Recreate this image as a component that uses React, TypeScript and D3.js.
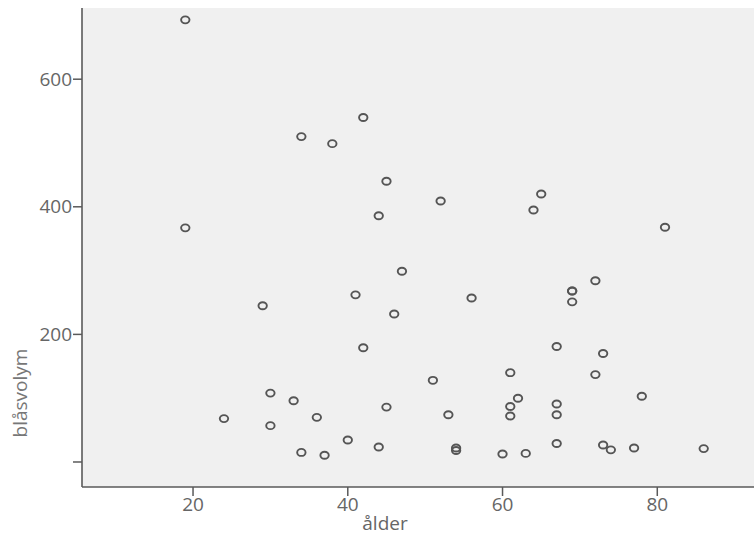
import React from "react";
import * as d3 from "d3";

const ages: number[] = [
  19, 19, 24, 29, 30, 30, 33, 34, 34, 36, 37, 38, 40, 41, 42, 42, 44, 44, 45, 45,
  46, 47, 51, 52, 53, 54, 54, 56, 60, 61, 61, 61, 62, 63, 64, 65, 67, 67, 67, 67,
  69, 69, 69, 72, 72, 73, 73, 74, 77, 78, 81, 86,
];
const volumes: number[] = [
  693, 367, 68, 245, 108, 57, 96, 510, 15, 70, 10.5, 499, 34.5, 262, 540, 179, 23.5, 386, 440, 86,
  232, 299, 128, 409, 74, 22, 18, 257, 12.5, 140, 87, 72, 100, 13.5, 395, 420, 181, 91, 74, 29,
  268, 268, 251, 284, 137, 170, 26.6, 19, 22, 103, 368, 21,
];
const xTicks: number[] = [20, 40, 60, 80];
const yTicks: number[] = [0, 200, 400, 600];
const yTickLabels: string[] = ["", "200", "400", "600"];
const xTitle = "ålder";
const yTitle = "blåsvolym";

const W = 754;
const H = 535;
const left = 82;
const right = 754;
const top = 8;
const bottom = 487;

export default function App() {
  const x = d3.scaleLinear().domain([5.65, 92.5]).range([left, right]);
  const y = d3.scaleLinear().domain([-39.2, 711.6]).range([bottom, top]);
  const axisColor = "#5a5a5a";
  const textColor = "#666";
  const font = "'Open Sans', sans-serif";
  return (
    <svg width={W} height={H} style={{ position: "absolute", left: 0, top: 0 }}>
      <rect x={left} y={top} width={right - left} height={bottom - top} fill="#f0f0f0" />
      {ages.map((a, i) => (
        <ellipse
          key={i}
          cx={x(a)}
          cy={y(volumes[i])}
          rx={4.2}
          ry={3.5}
          fill="none"
          stroke="#555"
          strokeWidth={1.9}
        />
      ))}
      <line x1={left} x2={left} y1={top} y2={bottom} stroke={axisColor} strokeWidth={1.6} />
      <line x1={left} x2={right} y1={bottom} y2={bottom} stroke={axisColor} strokeWidth={1.6} />
      {yTicks.map((t, i) => (
        <g key={"y" + t}>
          <line x1={left - 9} x2={left} y1={y(t)} y2={y(t)} stroke={axisColor} strokeWidth={1.5} />
          <text
            x={left - 10}
            y={y(t)}
            dy="0.35em"
            textAnchor="end"
            fontFamily={font}
            fontSize={19}
            fill={textColor}
          >
            {yTickLabels[i]}
          </text>
        </g>
      ))}
      {xTicks.map((t) => (
        <g key={"x" + t}>
          <line x1={x(t)} x2={x(t)} y1={bottom} y2={bottom + 9} stroke={axisColor} strokeWidth={1.5} />
          <text
            x={x(t)}
            y={bottom + 24}
            textAnchor="middle"
            fontFamily={font}
            fontSize={19}
            fill={textColor}
          >
            {t}
          </text>
        </g>
      ))}
      <text x={385} y={530} textAnchor="middle" fontFamily={font} fontSize={19} fill={textColor}>
        {xTitle}
      </text>
      <text
        transform={`translate(27,393) rotate(-90)`}
        textAnchor="middle"
        fontFamily={font}
        fontSize={19}
        fill="#777"
      >
        {yTitle}
      </text>
    </svg>
  );
}
